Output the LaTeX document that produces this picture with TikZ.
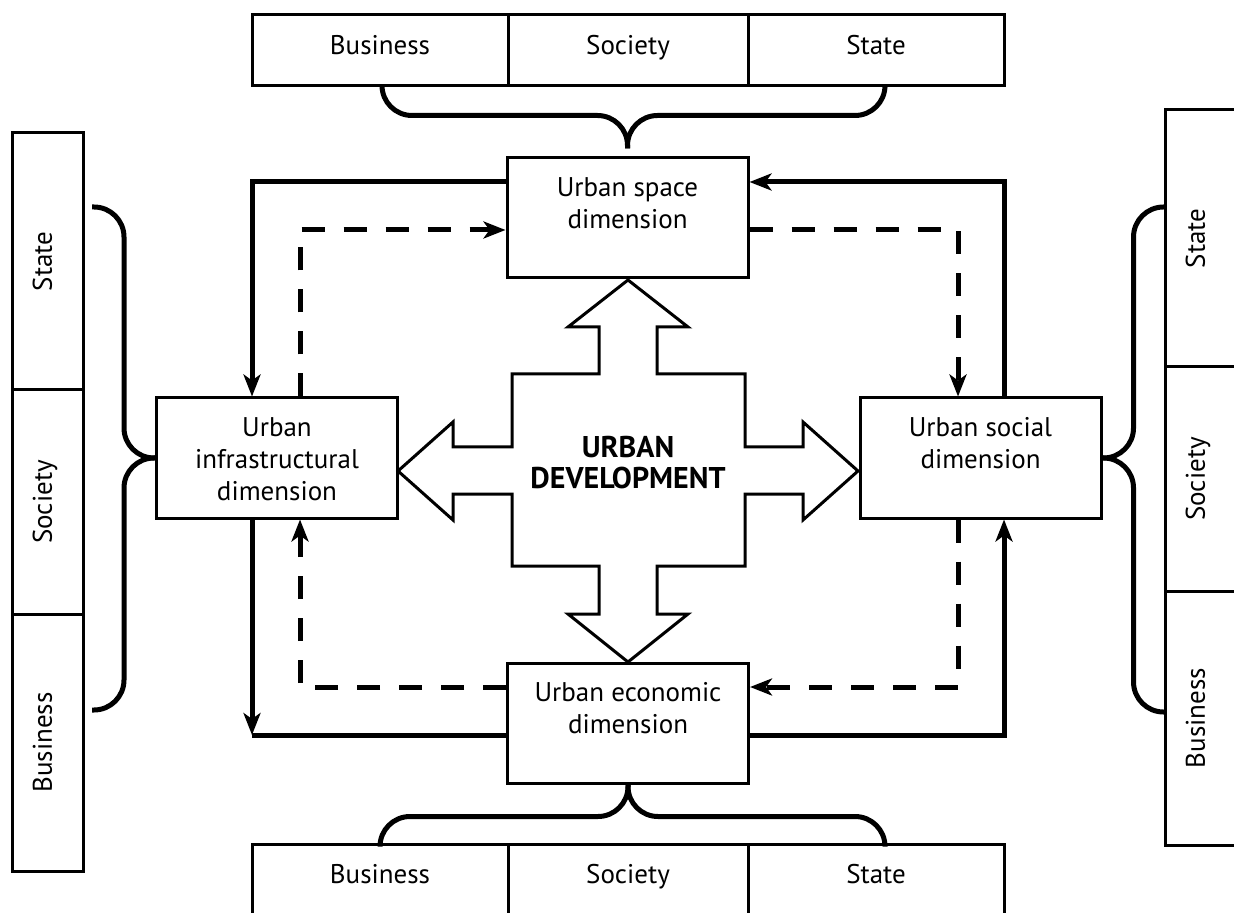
\documentclass[tikz,border=0pt]{standalone}
\usepackage{fontspec}
\setmainfont{PT Sans}
\usetikzlibrary{arrows.meta}
\newcommand{\dimtext}[1]{\parbox[c][60pt][t]{118pt}{\centering\vspace*{9.8pt}#1}}

\begin{document}
\begin{tikzpicture}[x=0.5pt, y=-0.5pt,
                    every node/.style={font=\fontsize{13.5}{16}\selectfont},
                    dimbox/.style={draw, line width=1.5pt, inner sep=0pt, minimum width=120.5pt, minimum height=60pt},
                    actor/.style={draw, line width=1.5pt, inner sep=0pt, text height=19.7pt, text depth=15.8pt, minimum height=35.5pt},
                    flow/.style={line width=2.5pt, -{Stealth[length=11pt, width=8.5pt, inset=3pt]}},
                    backflow/.style={flow, dash pattern=on 11.5pt off 9.5pt},
                    brace/.style={line width=2.5pt, rounded corners=15pt}]
                    \clip (0,0) rectangle (1234,913);

                    \node[dimbox] (space) at (627.5,218) {\dimtext{Urban space\\dimension}};
                    \node[dimbox] (infra) at (277,458) {\dimtext{Urban\\infrastructural\\dimension}};
                    \node[dimbox] (social) at (980.5,458) {\dimtext{Urban social\\dimension}};
                    \node[dimbox] (econ) at (628,723) {\dimtext{Urban economic\\dimension}};

                    \node[actor, minimum width=128pt] (tbus) at (380,50.5) {Business};
                    \node[actor, minimum width=120pt] (tsoc) at (628,50.5) {Society};
                    \node[actor, minimum width=128pt] (tsta) at (876,50.5) {State};

                    \node[actor, minimum width=128pt] (bbus) at (380,880) {Business};
                    \node[actor, minimum width=120pt] (bsoc) at (628,880) {Society};
                    \node[actor, minimum width=128pt] (bsta) at (876,880) {State};

                    \node[actor, rotate=90, minimum width=128.5pt] (lsta) at (48,261.5) {State};
                    \node[actor, rotate=90, minimum width=112pt] (lsoc) at (48,502) {Society};
                    \node[actor, rotate=90, minimum width=128.5pt] (lbus) at (48,742.5) {Business};

                    \node[actor, rotate=90, minimum width=128.5pt] (rsta) at (1201,238.5) {State};
                    \node[actor, rotate=90, minimum width=112pt] (rsoc) at (1201,479) {Society};
                    \node[actor, rotate=90, minimum width=127pt] (rbus) at (1201,718) {Business};

                    \draw[line width=1.5pt] (628,280) -- (688,327) -- (657,327) -- (657,374) -- (745,374) -- (745,447)
                        -- (803,447) -- (803,422) -- (858,471) -- (803,520) -- (803,494) -- (745,494) -- (745,566)
                        -- (657,566) -- (657,614) -- (688,614) -- (628,662) -- (568,614) -- (599,614) -- (599,566)
                        -- (512,566) -- (512,494) -- (453,494) -- (453,520) -- (398,471) -- (453,422) -- (453,447)
                        -- (512,447) -- (512,374) -- (599,374) -- (599,327) -- (568,327) -- cycle;
                    \node[font=\bfseries\fontsize{15}{15.5}\selectfont, align=center] (core) at (628,463) {URBAN\\DEVELOPMENT};

                    \draw[flow] ([yshift=18pt]space.west) -| ([xshift=-12.5pt]infra.north);
                    \draw[flow] ([xshift=11.75pt]social.north) |- ([yshift=18pt]space.east);
                    \draw[flow] ([yshift=-6pt]econ.east) -| ([xshift=11.75pt]social.south);
                    \coordinate (corner) at (252,735);
                    \draw[flow] ([xshift=-12.5pt]infra.south) -- (corner);
                    \draw[line width=2.5pt] (corner) -- ([yshift=-6pt]econ.west);

                    \draw[backflow] ([xshift=11.5pt]infra.north) |- ([yshift=-6pt]space.west);
                    \draw[backflow] ([yshift=-6pt]space.east) -| ([xshift=-11.25pt]social.north);
                    \draw[backflow] ([xshift=-11.25pt]social.south) |- ([yshift=18pt]econ.east);
                    \draw[backflow] ([yshift=18pt]econ.west) -| ([xshift=11.5pt]infra.south);

                    \draw[brace] ([xshift=1pt]tbus.south) |- ([yshift=20.5pt]space.north) -- ([yshift=4pt]space.north);
                    \draw[brace] ([xshift=4.5pt]tsta.south) |- ([yshift=20.5pt]space.north) -- ([yshift=4pt]space.north);
                    \draw[brace] (bbus.north) |- ([yshift=-16pt]econ.south) -- (econ.south);
                    \draw[brace] ([xshift=4.5pt]bsta.north) |- ([yshift=-16pt]econ.south) -- (econ.south);
                    \draw[brace] ([shift={(-31.5pt,125.5pt)}]infra.west) -| ([xshift=-15.5pt]infra.west) -- (infra.west);
                    \draw[brace] ([shift={(-31.5pt,-126pt)}]infra.west) -| ([xshift=-15.5pt]infra.west) -- (infra.west);
                    \draw[brace] ([shift={(31pt,125.5pt)}]social.east) -| ([xshift=15.5pt]social.east) -- (social.east);
                    \draw[brace] ([shift={(31pt,-127pt)}]social.east) -| ([xshift=15.5pt]social.east) -- (social.east);
                \end{tikzpicture}
\end{document}
